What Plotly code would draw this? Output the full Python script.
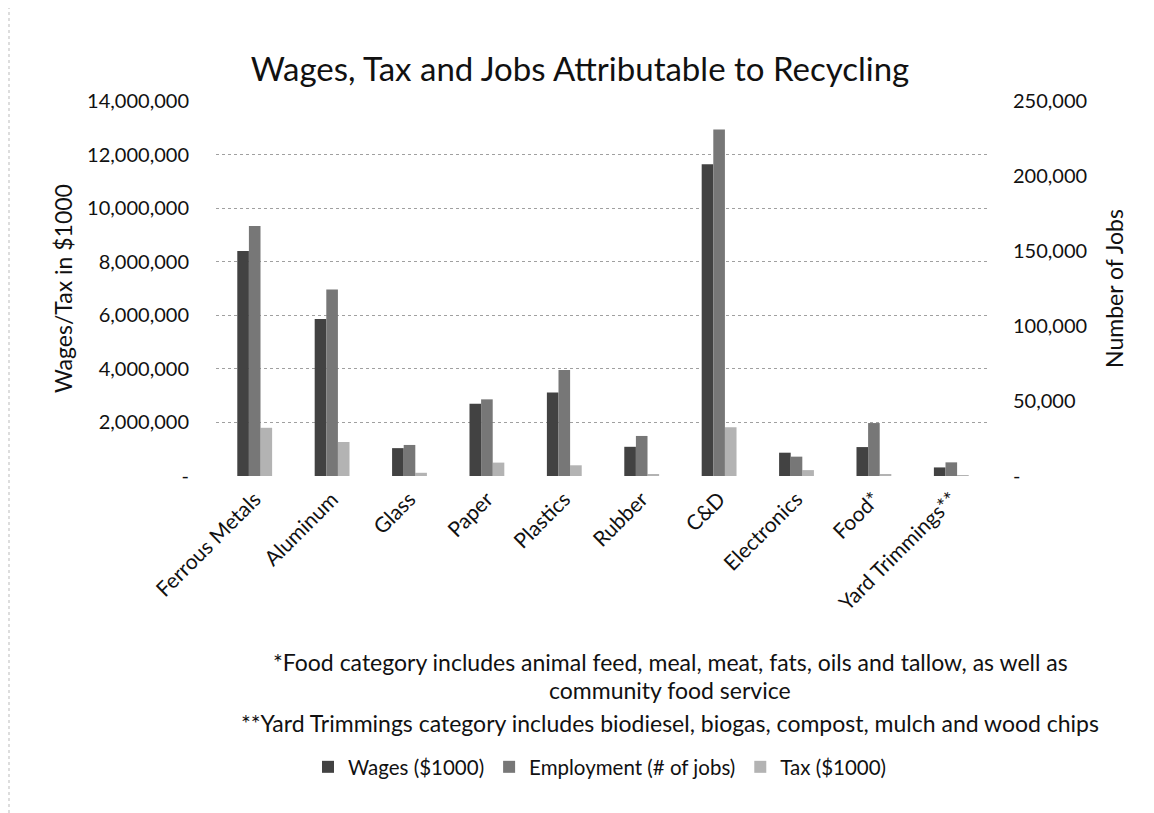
import plotly.graph_objects as go

categories = ["Ferrous Metals", "Aluminum", "Glass", "Paper", "Plastics", "Rubber",
              "C&D", "Electronics", "Food*", "Yard Trimmings**"]
wages = [8400000, 5860000, 1040000, 2700000, 3120000, 1090000, 11640000, 870000, 1080000, 320000]
employment = [166600, 124400, 20700, 51100, 70600, 26700, 231000, 12900, 35300, 9100]
tax = [1800000, 1270000, 120000, 500000, 400000, 60000, 1820000, 220000, 70000, 15000]

left_ticks = [0, 2000000, 4000000, 6000000, 8000000, 10000000, 12000000, 14000000]
left_labels = ["-", "2,000,000", "4,000,000", "6,000,000", "8,000,000", "10,000,000", "12,000,000", "14,000,000"]
right_ticks = [0, 50000, 100000, 150000, 200000, 250000]
right_labels = ["-", "50,000", "100,000", "150,000", "200,000", "250,000"]

FONT = "Lato"
OFF = 8  # page offset of the figure in the browser
L, R, T, B = 216 - OFF, 990 - OFF, 101 - OFF, 476 - OFF
PW, PH = R - L, B - T

def px_y(ypix):
    return (B - (ypix - OFF)) / PH

def px_x(xpix):
    return ((xpix - OFF) - L) / PW

fig = go.Figure()
fig.add_trace(go.Bar(x=categories, y=wages, name="Wages ($1000)", offsetgroup="1",
                     marker=dict(color="#424242", line=dict(width=0)), yaxis="y"))
fig.add_trace(go.Bar(x=categories, y=employment, name="Employment (# of jobs)", offsetgroup="2",
                     marker=dict(color="#777777", line=dict(width=0)), yaxis="y2"))
fig.add_trace(go.Bar(x=categories, y=tax, name="Tax ($1000)", offsetgroup="3",
                     marker=dict(color="#b3b3b3", line=dict(width=0)), yaxis="y"))

fig.update_layout(
    width=1154, height=813,
    paper_bgcolor="white", plot_bgcolor="white",
    font=dict(family=FONT, color="#111111"),
    margin=dict(l=L, r=1154 - R, t=T, b=813 - B),
    barmode="group", bargap=0.55, bargroupgap=0,
    title=dict(text="Wages, Tax and Jobs Attributable to Recycling", x=px_x(580), xref="paper",
               xanchor="center", y=1 - (69 - OFF) / 813, yanchor="middle",
               font=dict(size=33, family=FONT, color="#111111")),
    xaxis=dict(tickangle=-45, tickfont=dict(size=21), showgrid=False, showline=False,
               ticks="", automargin=False, ticklabelstandoff=6),
    yaxis=dict(range=[0, 14000000], tickvals=left_ticks, ticktext=left_labels,
               tickfont=dict(size=20), showgrid=True, gridcolor="#a0a0a0", griddash="dot",
               gridwidth=1, zeroline=False, showline=False, ticklabelstandoff=26,
               title=dict(text="Wages/Tax in $1000", font=dict(size=23), standoff=8),
               automargin=False),
    yaxis2=dict(range=[0, 250000], tickvals=right_ticks, ticktext=right_labels,
                overlaying="y", side="right", showgrid=False, zeroline=False, showline=False,
                tickfont=dict(size=20), ticklabelstandoff=22,
                title=dict(text="Number of Jobs", font=dict(size=23), standoff=20),
                automargin=False),
    legend=dict(orientation="h", x=px_x(600), xanchor="center", y=px_y(767), yanchor="middle",
                font=dict(size=20.5), itemwidth=30, traceorder="normal",
                itemsizing="constant"),
    showlegend=True,
)

notes = [
    ("*Food category includes animal feed, meal, meat, fats, oils and tallow, as well as", 662),
    ("community food service", 690),
    ("**Yard Trimmings category includes biodiesel, biogas, compost, mulch and wood chips", 723),
]
for text, ypix in notes:
    fig.add_annotation(text=text, xref="paper", yref="paper",
                       x=px_x(670), y=px_y(ypix), xanchor="center", yanchor="middle",
                       showarrow=False, font=dict(size=23, family=FONT, color="#111111"))

fig.add_shape(type="line", xref="paper", yref="paper", x0=px_x(9), x1=px_x(9),
              y0=px_y(0), y1=px_y(813), line=dict(color="#bbbbbb", width=1, dash="dot"))

fig.write_html("out.html")
